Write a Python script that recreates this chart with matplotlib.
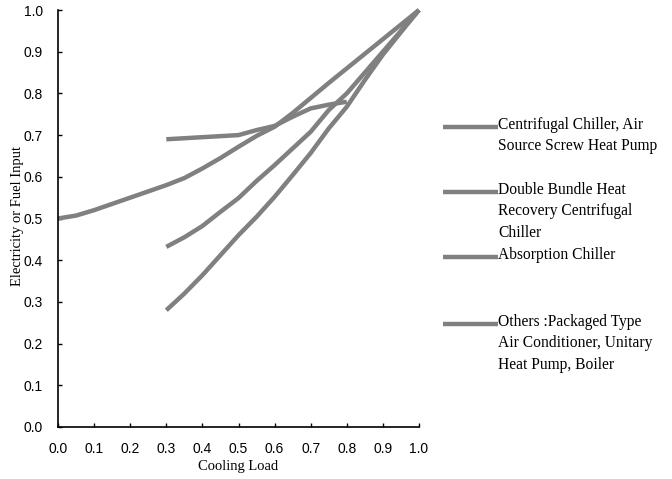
import matplotlib
matplotlib.use("Agg")
import matplotlib.pyplot as plt
from matplotlib.lines import Line2D

# ---- data ----
x_centrifugal = [0.0, 0.05, 0.10, 0.15, 0.20, 0.25, 0.30, 0.35, 0.40, 0.45, 0.50, 0.55, 0.60,
                 0.65, 0.70, 0.75, 0.80, 0.85, 0.90, 0.95, 1.0]
y_centrifugal = [0.50, 0.507, 0.52, 0.535, 0.55, 0.565, 0.58, 0.597, 0.62, 0.645, 0.672, 0.698,
                 0.72, 0.753, 0.789, 0.825, 0.86, 0.895, 0.93, 0.965, 1.0]

x_double = [0.30, 0.35, 0.40, 0.45, 0.50, 0.55, 0.60, 0.65, 0.70, 0.75, 0.80, 0.85, 0.90, 0.95, 1.0]
y_double = [0.432, 0.455, 0.482, 0.516, 0.549, 0.59, 0.628, 0.668, 0.708, 0.76, 0.80, 0.85,
            0.90, 0.95, 1.0]

x_absorption = [0.30, 0.40, 0.50, 0.55, 0.60, 0.65, 0.70, 0.75, 0.80]
y_absorption = [0.69, 0.695, 0.70, 0.712, 0.722, 0.744, 0.764, 0.773, 0.78]

x_others = [0.30, 0.35, 0.40, 0.45, 0.50, 0.55, 0.60, 0.65, 0.70, 0.75, 0.80, 0.85, 0.90, 0.95, 1.0]
y_others = [0.28, 0.32, 0.364, 0.412, 0.46, 0.504, 0.552, 0.604, 0.657, 0.716, 0.768, 0.832,
            0.893, 0.947, 1.0]

labels = ["Centrifugal Chiller, Air\nSource Screw Heat Pump",
          "Double Bundle Heat\nRecovery Centrifugal\nChiller",
          "Absorption Chiller",
          "Others :Packaged Type\nAir Conditioner, Unitary\nHeat Pump, Boiler"]

x_ticks = [0.0, 0.1, 0.2, 0.3, 0.4, 0.5, 0.6, 0.7, 0.8, 0.9, 1.0]
y_ticks = [0.0, 0.1, 0.2, 0.3, 0.4, 0.5, 0.6, 0.7, 0.8, 0.9, 1.0]

# ---- style ----
color = "#808080"
lw = 3.2
serif = ["Liberation Serif", "DejaVu Serif"]
sans = ["Liberation Sans", "DejaVu Sans"]

fig = plt.figure(figsize=(6.72, 4.79), dpi=100)
ax = fig.add_axes([58 / 672, 1 - 427 / 479, (419 - 58) / 672, (427 - 10) / 479])

series = [(x_centrifugal, y_centrifugal), (x_double, y_double),
          (x_absorption, y_absorption), (x_others, y_others)]
for xs, ys in series:
    ax.plot(xs, ys, color=color, lw=lw, solid_capstyle="butt", clip_on=False)

ax.set_xlim(0, 1.0)
ax.set_ylim(0, 1.0)
ax.set_xticks(x_ticks)
ax.set_yticks(y_ticks)
ax.set_xticklabels([f"{t:.1f}" for t in x_ticks], fontfamily=sans, fontsize=10)
ax.set_yticklabels([f"{t:.1f}" for t in y_ticks], fontfamily=sans, fontsize=10)
ax.tick_params(direction="in", length=3, width=1)
ax.tick_params(axis="x", pad=11)
ax.tick_params(axis="y", pad=11)
for s in ["top", "right"]:
    ax.spines[s].set_visible(False)
for s in ["left", "bottom"]:
    ax.spines[s].set_linewidth(1.2)

ax.set_xlabel("Cooling Load", fontfamily=serif, fontsize=10.5)
ax.set_ylabel("Electricity or Fuel Input", fontfamily=serif, fontsize=10.5)
ax.xaxis.set_label_coords(0.5, -0.08)
ax.yaxis.set_label_coords(-0.095, 0.505)

# ---- legend (manual, handle aligned with first text line) ----
leg_y = [127, 192, 257, 324]
for lab, yp in zip(labels, leg_y):
    yf = 1 - yp / 479
    fig.add_artist(Line2D([443 / 672, 498 / 672], [yf, yf], transform=fig.transFigure,
                          color=color, lw=lw, solid_capstyle="butt"))
    fig.text(498 / 672, yf + 10 / 479, lab, fontfamily=serif, fontsize=11.2,
             va="top", ha="left", linespacing=1.45)

fig.savefig("out.png", dpi=100)
